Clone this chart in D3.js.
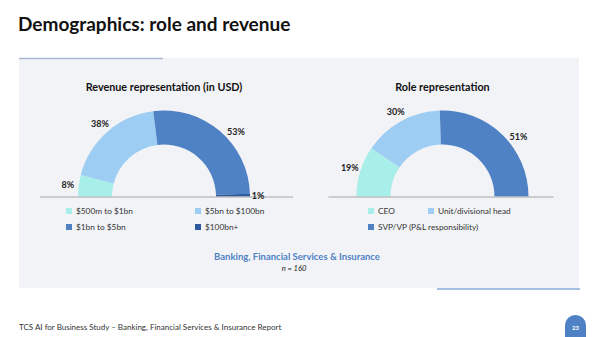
<!DOCTYPE html>
<html>
<head>
<meta charset="utf-8">
<script src="https://cdn.jsdelivr.net/npm/d3@7"></script>
<style>
  body { margin: 0; background: #fff; }
  text { font-family: Lato, "Open Sans", sans-serif; }
</style>
</head>
<body>
<script>
const width  = 600;
const height = 337;

// revenue chart
const revenueCats   = ['$500m to $1bn', '$5bn to $100bn', '$1bn to $5bn', '$100bn+'];
const revenueValues = [8, 38, 53, 1];
const revenueColors = ['#A8EEE9', '#9DCDF2', '#4F81C5', '#2C5C9E'];

// role chart
const roleCats   = ['CEO', 'Unit/divisional head', 'SVP/VP (P&L responsibility)'];
const roleValues = [19, 30, 51];
const roleColors = ['#A8EEE9', '#9DCDF2', '#4F81C5'];

const svg = d3.select('body').append('svg')
  .attr('width', width)
  .attr('height', height);

// panel
svg.append('rect').attr('x', 19).attr('y', 58).attr('width', 560).attr('height', 230)
  .attr('fill', '#F2F3F7');
svg.append('line').attr('x1', 19).attr('x2', 163).attr('y1', 58.5).attr('y2', 58.5)
  .attr('stroke', '#A8B8D0').attr('stroke-width', 1.5);
svg.append('line').attr('x1', 437).attr('x2', 580).attr('y1', 289).attr('y2', 289)
  .attr('stroke', '#4F81C5').attr('stroke-width', 1.2);

svg.append('text').attr('x', 18).attr('y', 31)
  .style('font-size', '19px').style('font-weight', 700).attr('fill', '#111')
  .text('Demographics: role and revenue');

const halfDonut = function(opts) {
  const g = svg.append('g')
    .attr('transform', 'translate(' + opts.cx + ',' + opts.cy + ')');

  const pie = d3.pie().sort(null)
    .startAngle(-Math.PI / 2).endAngle(Math.PI / 2)
    .value(d => d.value);

  const arc = d3.arc().innerRadius(52).outerRadius(86);

  const data = opts.cats.map((c, i) => ({label: c, value: opts.values[i], color: opts.colors[i]}));
  const arcs = pie(data);

  g.selectAll('path').data(arcs).enter().append('path')
    .attr('d', arc).attr('fill', d => d.data.color);

  g.append('line').attr('x1', opts.axis[0]).attr('x2', opts.axis[1])
    .attr('y1', 0.5).attr('y2', 0.5).attr('stroke', '#A6A6A6').attr('stroke-width', 1);

  g.selectAll('.lbl').data(arcs).enter().append('text')
    .attr('class', 'lbl')
    .attr('transform', d => {
      let a = (d.startAngle + d.endAngle) / 2;
      // big slices on the right: label sits a bit lower, like excel does
      if (a > 0.5 && a < 1.2) a += 0.13;
      const r = a > 1.4 ? 94 : 97;
      const x = r * Math.sin(a);
      const y = -r * Math.cos(a) + 3.5;
      return 'translate(' + x + ',' + y + ')';
    })
    .attr('text-anchor', 'middle')
    .style('font-size', '9px').style('font-weight', 700).attr('fill', '#222')
    .text(d => d.data.value + '%');

  svg.append('text').attr('x', opts.cx).attr('y', 91)
    .attr('text-anchor', 'middle')
    .style('font-size', '10.8px').style('font-weight', 700).attr('fill', '#111')
    .text(opts.title);

  const leg = svg.selectAll('.leg' + opts.key).data(opts.legend).enter().append('g')
    .attr('transform', d => 'translate(' + d.x + ',' + d.y + ')');
  leg.append('rect').attr('x', 0).attr('y', -6).attr('width', 6).attr('height', 6)
    .attr('fill', d => d.color);
  leg.append('text').attr('x', 10).attr('y', 0)
    .style('font-size', '8.3px').attr('fill', '#333')
    .text(d => d.label);
};

const revColor = d3.scaleOrdinal().domain(revenueCats).range(revenueColors);
const roleColor = d3.scaleOrdinal().domain(roleCats).range(roleColors);

halfDonut({
  key: 'rev', cx: 164, cy: 196.5, title: 'Revenue representation (in USD)',
  cats: revenueCats, values: revenueValues, colors: revenueColors, axis: [-124, 129],
  legend: revenueCats.map((l, i) => ({label: l, color: revColor(l),
    x: i % 2 === 0 ? 66 : 195, y: i < 2 ? 214 : 230}))
});

halfDonut({
  key: 'role', cx: 442.5, cy: 196.5, title: 'Role representation',
  cats: roleCats, values: roleValues, colors: roleColors, axis: [-114, 111],
  legend: roleCats.map((l, i) => ({label: l, color: roleColor(l),
    x: i === 1 ? 428 : 368, y: i < 2 ? 214 : 230}))
});

svg.append('text').attr('x', 297).attr('y', 260).attr('text-anchor', 'middle')
  .style('font-size', '9.5px').style('font-weight', 700).attr('fill', '#4F81C5')
  .text('Banking, Financial Services & Insurance');
svg.append('text').attr('x', 294).attr('y', 271).attr('text-anchor', 'middle')
  .style('font-size', '7.5px').style('font-style', 'italic').attr('fill', '#222')
  .text('n = 160');

svg.append('text').attr('x', 19).attr('y', 330)
  .style('font-size', '8px').attr('fill', '#333')
  .text('TCS AI for Business Study \u2013 Banking, Financial Services & Insurance Report');

// page badge
svg.append('path')
  .attr('d', 'M565,337 V325 A10.5,10 0 0 1 586,325 V337 Z')
  .attr('fill', '#4F81C5');
svg.append('text').attr('x', 575.5).attr('y', 330).attr('text-anchor', 'middle')
  .style('font-size', '6px').style('font-weight', 700).attr('fill', '#fff')
  .text('23');
</script>
</body>
</html>
